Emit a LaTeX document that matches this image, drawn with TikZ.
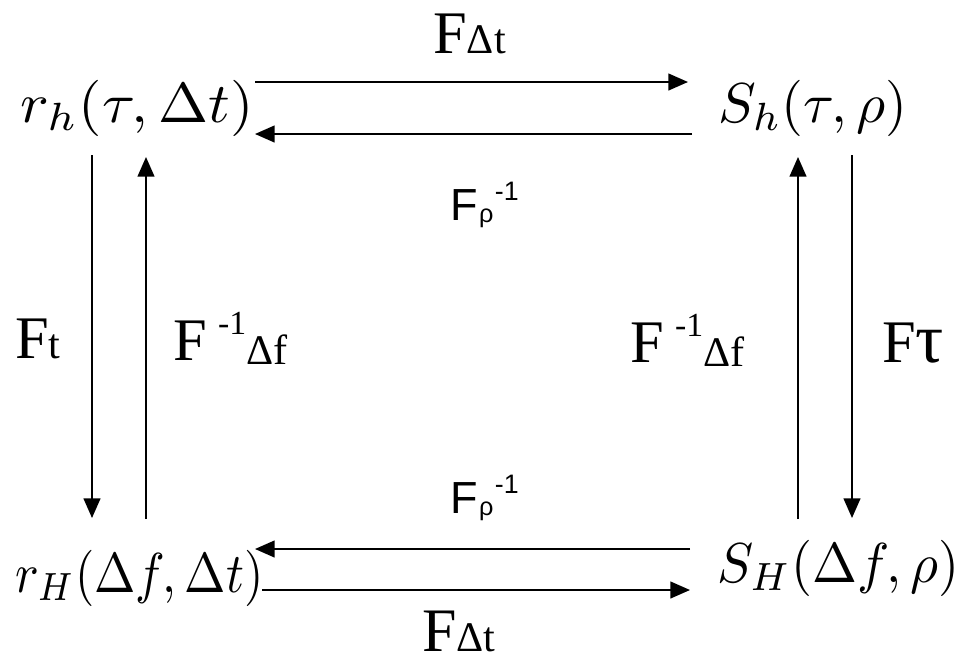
\documentclass[tikz,border=0pt]{standalone}
\usepackage{fontspec}
\usepackage{graphicx}
\newfontfamily\timesfont{Liberation Serif}
\newfontfamily\arialfont{Liberation Sans}
\usetikzlibrary{arrows.meta,calc}
\newcommand{\subtxt}[2][0pt]{\raisebox{#1}{\fontsize{30}{30}\selectfont #2}}
\newcommand{\suptxt}[2][18pt]{\raisebox{#1}{\fontsize{24}{24}\selectfont #2}}
\newcommand{\Frho}{F\hspace{1pt}\raisebox{-2pt}{\fontsize{18}{18}\selectfont ρ}\hspace{1pt}\raisebox{14pt}{\fontsize{19}{19}\selectfont -1}}
\newcommand{\bigmath}[2][4]{\scalebox{#1}[4]{$#2$}}

\begin{document}
\begin{tikzpicture}[x=0.25mm,y=-0.25mm,line cap=butt,
  mathnode/.style={inner sep=0,anchor=base west},
  lbl/.style={inner sep=0,anchor=base west,font=\timesfont\fontsize{43}{48}\selectfont},
  lblsans/.style={inner sep=0,anchor=base west,font=\arialfont\fontsize{32}{36}\selectfont},
  arr/.style={-{Triangle[length=14pt,width=12pt]},line width=1.2pt}]
  \useasboundingbox (0,0) rectangle (963,666);
  \node[mathnode] (rh) at (20,122) {\bigmath[4.28]{r_h(\tau,\Delta t)}};
  \node[mathnode] (Sh) at (718,122) {\bigmath{S_h(\tau,\rho)}};
  \node[mathnode] (rH) at (15,592) {\bigmath[3.53]{r_H(\Delta f,\Delta t)}};
  \node[mathnode] (SH) at (717,582) {\bigmath[3.84]{S_H(\Delta f,\rho)}};
  \draw[arr] ($(rh.base west)+(235,-40)$)--($(Sh.base west)+(-30,-40)$);
  \draw[arr] ($(Sh.base west)+(-26,12)$)--($(rh.base west)+(235,12)$);
  \draw[arr] ($(rh.base west)+(72,33)$)--($(rH.base west)+(77,-74)$);
  \draw[arr] ($(rH.base west)+(131,-73)$)--($(rh.base west)+(126,35)$);
  \draw[arr] ($(SH.base west)+(81,-63)$)--($(Sh.base west)+(80,35)$);
  \draw[arr] ($(Sh.base west)+(134,33)$)--($(SH.base west)+(135,-64)$);
  \draw[arr] ($(SH.base west)+(-27,-33)$)--($(rH.base west)+(240,-43)$);
  \draw[arr] ($(rH.base west)+(247,-2)$)--($(SH.base west)+(-27,8)$);
  \node[lbl] (Fdt1) at (433,53) {F\subtxt{Δt}};
  \node[lblsans] (Frho1) at (450,220) {\Frho};
  \node[lbl] (Ft) at (15,358) {F\subtxt{t}};
  \node[lbl] (Finv1) at (173,360) {F\hspace{8pt}\suptxt{-1}\subtxt[-3.5pt]{Δf}};
  \node[lbl] (Finv2) at (630,362) {F\hspace{8pt}\suptxt{-1}\subtxt[-3.5pt]{Δf}};
  \node[lbl] (Ftau) at (882,362) {F{\fontsize{50}{50}\selectfont τ}};
  \node[lblsans] (Frho2) at (450,513) {\Frho};
  \node[lbl,font=\timesfont\fontsize{44}{48}\selectfont] (Fdt2) at (422,651) {F\subtxt{Δt}};
\end{tikzpicture}
\end{document}
